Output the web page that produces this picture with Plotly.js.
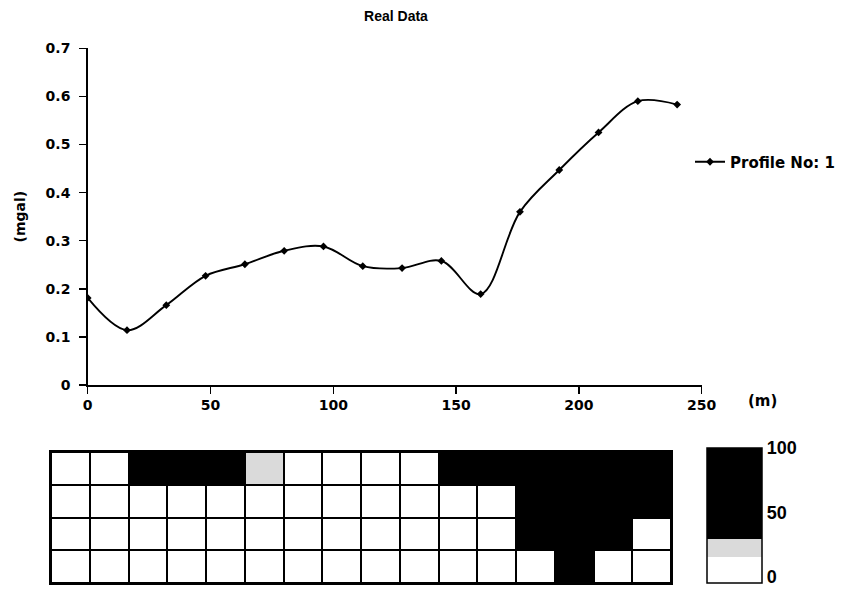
<!DOCTYPE html>
<html><head><meta charset="utf-8">
<script src="https://cdn.plot.ly/plotly-3.0.1.min.js"></script>
<style>html,body{margin:0;padding:0;background:#fff}</style>
</head><body><div id="chart" style="width:843px;height:589px"></div>
<script>
const W = 843, H = 589;

// Profile data
const distance = [0, 16, 32, 48, 64, 80, 96, 112, 128, 144, 160, 176, 192, 208, 224, 240];
const gravity  = [0.181, 0.114, 0.166, 0.227, 0.251, 0.279, 0.288, 0.247, 0.243, 0.258, 0.189, 0.360, 0.447, 0.525, 0.590, 0.583];
const seriesName = 'Profile No: 1';
const xTicks = [0, 50, 100, 150, 200, 250];
const yTicks = [0, 0.1, 0.2, 0.3, 0.4, 0.5, 0.6, 0.7];

// Section grid (rows top to bottom)
const columns = [1, 2, 3, 4, 5, 6, 7, 8, 9, 10, 11, 12, 13, 14, 15, 16];
const layers = [1, 2, 3, 4];
const row1 = [10, 10, 80, 80, 80, 25, 10, 10, 10, 10, 80, 80, 80, 80, 80, 80];
const row2 = [10, 10, 10, 10, 10, 10, 10, 10, 10, 10, 10, 10, 80, 80, 80, 80];
const row3 = [10, 10, 10, 10, 10, 10, 10, 10, 10, 10, 10, 10, 80, 80, 80, 10];
const row4 = [10, 10, 10, 10, 10, 10, 10, 10, 10, 10, 10, 10, 10, 80, 10, 10];
const cbTicks = [0, 50, 100];

const px = x => x / W;
const py = y => 1 - y / H;
const bold = 'DejaVu Sans, sans-serif';
const b = s => '<b>' + s + '</b>';

const profile = {
  type: 'scatter', mode: 'lines+markers', name: b(seriesName),
  x: distance, y: gravity, xaxis: 'x', yaxis: 'y',
  line: {color: 'black', width: 1.9, shape: 'spline', smoothing: 1},
  marker: {symbol: 'diamond', size: 6, color: 'black'},
  showlegend: true
};

const grid = {
  type: 'heatmap', x: columns, y: layers, z: [row1, row2, row3, row4],
  xaxis: 'x2', yaxis: 'y2', zmin: -5, zmax: 100, xgap: 2, ygap: 2,
  showlegend: false,
  colorscale: [[0, '#ffffff'], [0.193, '#ffffff'], [0.193, '#dadada'], [0.326, '#dadada'], [0.326, '#000000'], [1, '#000000']],
  colorbar: {
    x: px(707), xanchor: 'left', xpad: 0, ypad: 0,
    y: py(448), yanchor: 'top',
    thickness: 55, thicknessmode: 'pixels', len: 135, lenmode: 'pixels',
    outlinecolor: 'black', outlinewidth: 1.5,
    tickvals: cbTicks, ticktext: cbTicks.map(v => b(String(v))), ticks: '',
    ticklabeloverflow: 'allow',
    tickfont: {family: 'Liberation Sans Narrow, Liberation Sans, sans-serif', size: 18, color: 'black'}
  }
};

const tickFont = {family: bold, size: 14, color: 'black'};

const layout = {
  width: W, height: H, margin: {l: 0, r: 0, t: 0, b: 0},
  paper_bgcolor: 'white', plot_bgcolor: 'white',
  title: {text: b('Real Data'), x: px(396), xanchor: 'center', y: py(16), yanchor: 'middle',
          font: {family: 'Liberation Sans, Arial, sans-serif', size: 14, color: 'black'}},
  xaxis: {domain: [px(87.7), px(701.7)], anchor: 'y', range: [0, 250],
          tickvals: xTicks, ticktext: xTicks.map(v => b(String(v))),
          showgrid: false, zeroline: false, showline: true, linecolor: 'black', linewidth: 1.5,
          ticks: 'outside', ticklen: 7, tickwidth: 1.5, tickcolor: 'black', tickfont: tickFont},
  yaxis: {domain: [py(385), py(48.3)], anchor: 'x', range: [0, 0.7],
          tickvals: yTicks, ticktext: yTicks.map(v => b(String(v))),
          showgrid: false, zeroline: false, showline: true, linecolor: 'black', linewidth: 1.5,
          ticks: 'outside', ticklen: 7, tickwidth: 1.5, tickcolor: 'black', ticklabelstandoff: 6,
          tickfont: tickFont,
          title: {text: b('(mgal)'), standoff: 16, font: {family: bold, size: 14, color: 'black'}}},
  xaxis2: {domain: [px(51), px(671)], anchor: 'y2', showticklabels: false, ticks: '', showgrid: false,
           zeroline: false, showline: true, mirror: true, linecolor: 'black', linewidth: 2,
           range: [0.5, 16.5]},
  yaxis2: {domain: [py(583), py(452)], anchor: 'x2', showticklabels: false, ticks: '', showgrid: false,
           zeroline: false, showline: true, mirror: true, linecolor: 'black', linewidth: 2,
           range: [4.5, 0.5]},
  shapes: [{type: 'rect', xref: 'x2 domain', yref: 'y2 domain', x0: 0, x1: 1, y0: 0, y1: 1,
            fillcolor: 'black', line: {width: 0}, layer: 'below'}],
  annotations: [{text: b('(m)'), xref: 'paper', yref: 'paper', x: px(762), y: py(401),
                 xanchor: 'center', yanchor: 'middle', showarrow: false,
                 font: {family: bold, size: 15, color: 'black'}}],
  legend: {x: px(690), xanchor: 'left', y: py(162), yanchor: 'middle', bgcolor: 'rgba(0,0,0,0)',
           borderwidth: 0, itemwidth: 30,
           font: {family: bold, size: 15, color: 'black'}}
};

Plotly.newPlot('chart', [profile, grid], layout, {displayModeBar: false, staticPlot: true});
</script></body></html>
